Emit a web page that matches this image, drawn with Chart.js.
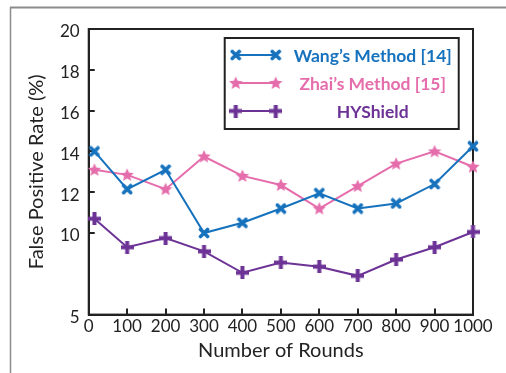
<!DOCTYPE html>
<html><head><meta charset="utf-8">
<script src="https://cdn.jsdelivr.net/npm/chart.js@4"></script>
<style>html,body{margin:0;padding:0;background:#fff}#wrap{width:506px;height:373px;position:relative}</style>
</head><body><div id="wrap"><canvas id="c" width="506" height="373"></canvas></div>
<script>
// ---- data ----
const rounds = [15, 100, 200, 300, 400, 500, 600, 700, 800, 900, 1000];
const wangMethod = [14.0, 12.15, 13.1, 10.0, 10.5, 11.2, 11.95, 11.2, 11.45, 12.4, 14.25];
const zhaiMethod = [13.1, 12.85, 12.15, 13.75, 12.8, 12.35, 11.2, 12.3, 13.4, 14.0, 13.25];
const hyShield = [10.7, 9.3, 9.75, 9.1, 8.05, 8.55, 8.35, 7.9, 8.7, 9.3, 10.05];
const seriesNames = ["Wang’s Method [14]", "Zhai’s Method [15]", "HYShield"];
const xTickValues = [0, 100, 200, 300, 400, 500, 600, 700, 800, 900, 1000];
const xTickLabels = ["0", "100", "200", "300", "400", "500", "600", "700", "800", "900", "1000"];
const yTickValues = [6, 10, 12, 14, 16, 18, 20];
const yTickLabels = ["5", "10", "12", "14", "16", "18", "20"];
const xTitle = "Number of Rounds";
const yTitle = "False Positive Rate (%)";

// ---- styles ----
const colors = ["#1672bd", "#e56dac", "#6c3296"];
const FONT = "Lato, 'Open Sans', sans-serif";

function mk(w, h, draw) {
  const c = document.createElement('canvas'); c.width = w; c.height = h;
  draw(c.getContext('2d')); return c;
}
function markerX(color) {
  return mk(12, 12, g => {
    g.strokeStyle = color; g.lineWidth = 3.6; g.lineCap = 'round';
    g.beginPath(); g.moveTo(2.5, 2.5); g.lineTo(9.5, 9.5); g.moveTo(9.5, 2.5); g.lineTo(2.5, 9.5); g.stroke();
  });
}
function markerStar(color) {
  return mk(14, 14, g => {
    g.fillStyle = color; g.beginPath();
    for (let i = 0; i < 10; i++) {
      const r = i % 2 === 0 ? 7 : 3.2;
      const a = -Math.PI / 2 + i * Math.PI / 5;
      const x = 7 + r * Math.cos(a), y = 7.4 + r * Math.sin(a);
      if (i === 0) g.moveTo(x, y); else g.lineTo(x, y);
    }
    g.closePath(); g.fill();
  });
}
function markerPlus(color) {
  return mk(13, 13, g => {
    g.fillStyle = color; g.fillRect(4.5, 0, 4, 13); g.fillRect(0, 4.5, 13, 4);
  });
}
const markers = [markerX(colors[0]), markerStar(colors[1]), markerPlus(colors[2])];
const seriesValues = [wangMethod, zhaiMethod, hyShield];

const datasets = seriesValues.map((vals, i) => ({
  label: seriesNames[i],
  data: vals.map((v, j) => ({ x: rounds[j], y: v })),
  borderColor: colors[i],
  backgroundColor: colors[i],
  borderWidth: 2,
  pointStyle: markers[i],
  pointRadius: 6,
  tension: 0,
  clip: false
}));

const framePlugin = {
  id: 'frame',
  beforeDraw(chart) {
    const g = chart.ctx;
    g.save(); g.strokeStyle = '#8c8c8c'; g.lineWidth = 2;
    g.beginPath(); g.moveTo(10, 7.5); g.lineTo(506, 7.5); g.stroke();
    g.lineWidth = 1.5;
    g.beginPath(); g.moveTo(10.5, 7); g.lineTo(10.5, 373); g.stroke();
    g.restore();
  },
  beforeDatasetsDraw(chart) {
    const a = chart.chartArea, g = chart.ctx;
    const xs = chart.scales.x, ys = chart.scales.y;
    g.save(); g.strokeStyle = '#222'; g.lineWidth = 2;
    g.strokeRect(a.left, a.top, a.right - a.left, a.bottom - a.top);
    g.beginPath();
    xs.ticks.forEach(t => {
      if (t.value === xs.min || t.value === xs.max) return;
      const p = Math.round(xs.getPixelForValue(t.value));
      g.moveTo(p, a.bottom); g.lineTo(p, a.bottom - 6);
    });
    ys.ticks.forEach(t => {
      if (t.value === ys.min || t.value === ys.max) return;
      const p = Math.round(ys.getPixelForValue(t.value));
      g.moveTo(a.left, p); g.lineTo(a.left + 6, p);
    });
    g.stroke(); g.restore();
  },
  afterDraw(chart) {
    const a = chart.chartArea, g = chart.ctx;
    const bx = a.left + 136, by = a.top + 9, bw = 234, bh = 91;
    g.save();
    g.fillStyle = '#fff'; g.fillRect(bx, by, bw, bh);
    g.strokeStyle = '#222'; g.lineWidth = 2; g.strokeRect(bx, by, bw, bh);
    const rowsY = [by + 17, by + 45, by + 73];
    chart.data.datasets.forEach((ds, i) => {
      const y = rowsY[i];
      g.strokeStyle = ds.borderColor; g.lineWidth = 2;
      g.beginPath(); g.moveTo(bx + 11, y); g.lineTo(bx + 51, y); g.stroke();
      [bx + 11, bx + 51].forEach(x => g.drawImage(ds.pointStyle, x - ds.pointStyle.width / 2, y - ds.pointStyle.height / 2));
      g.fillStyle = ds.borderColor; g.font = "bold 17.5px " + FONT;
      g.textAlign = 'center'; g.textBaseline = 'middle';
      g.fillText(ds.label, bx + 148, y + 1);
    });
    g.restore();
  }
};

new Chart(document.getElementById('c'), {
  type: 'line',
  data: { datasets },
  plugins: [framePlugin],
  options: {
    responsive: false, animation: false, devicePixelRatio: 1,
    layout: { padding: { left: 25, top: 29, right: 33, bottom: 10 } },
    plugins: { legend: { display: false }, tooltip: { enabled: false } },
    scales: {
      x: {
        type: 'linear', min: 0, max: 1000,
        afterBuildTicks: s => { s.ticks = xTickValues.map(v => ({ value: v })); },
        ticks: { callback: (v) => xTickLabels[xTickValues.indexOf(v)], color: '#222', font: { family: FONT, size: 17 }, padding: 2, maxRotation: 0, autoSkip: false },
        grid: { display: false, drawTicks: false },
        border: { display: true, color: '#222', width: 2 },
        title: { display: true, text: xTitle, color: '#222', font: { family: FONT, size: 20 }, padding: { top: 0, bottom: 0 } }
      },
      y: {
        type: 'linear', min: 6, max: 20,
        afterBuildTicks: s => { s.ticks = yTickValues.map(v => ({ value: v })); },
        ticks: { callback: (v) => yTickLabels[yTickValues.indexOf(v)], color: '#222', font: { family: FONT, size: 17 }, padding: 9, labelOffset: 3, autoSkip: false },
        grid: { display: false, drawTicks: false },
        border: { display: true, color: '#222', width: 2 },
        title: { display: true, text: yTitle, color: '#222', font: { family: FONT, size: 20 }, padding: { top: 0, bottom: 2 } }
      }
    }
  }
});
</script>
</body></html>
